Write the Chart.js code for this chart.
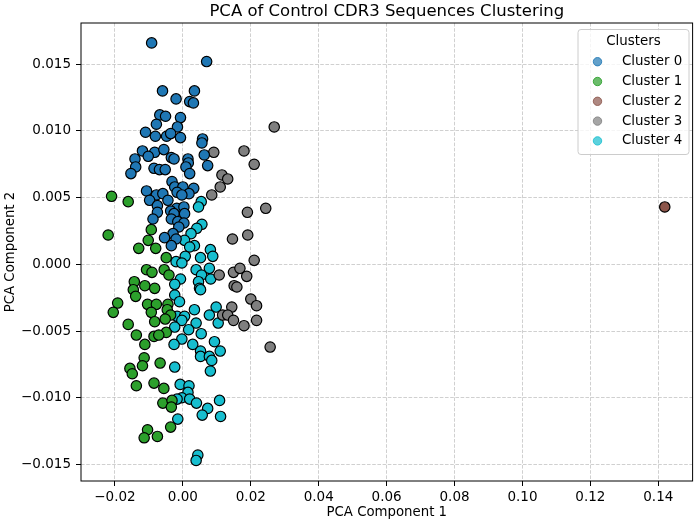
<!DOCTYPE html>
<html>
<head>
<meta charset="utf-8">
<title>PCA of Control CDR3 Sequences Clustering</title>
<script src="https://cdn.jsdelivr.net/npm/chart.js@4.4.0/dist/chart.umd.min.js"></script>
<style>
    html, body { margin: 0; padding: 0; background: #fff; }
    #wrap { width: 699px; height: 525px; }
</style>
</head>
<body>
<div id="wrap"><canvas id="chart" width="699" height="525"></canvas></div>
<script>
// PCA scatter of CDR3 clusters

const clusterNames = ['Cluster 0', 'Cluster 1', 'Cluster 2', 'Cluster 3', 'Cluster 4'];
const clusterColors = ['#1f77b4', '#2ca02c', '#8c564b', '#7f7f7f', '#17becf'];

const xTicks = [-0.02, 0.00, 0.02, 0.04, 0.06, 0.08, 0.10, 0.12, 0.14];
const yTicks = [-0.015, -0.010, -0.005, 0.000, 0.005, 0.010, 0.015];
const xLimits = [-0.0300, 0.1501];
const yLimits = [-0.01624, 0.01809];

const cluster0X = [-0.0092, 0.0070, -0.0060, 0.0034, -0.0020, 0.0020, 0.0031, -0.0068, -0.0051, -0.0007,
    -0.0078, -0.0016, -0.0110, -0.0081, -0.0048, -0.0036, -0.0007, 0.0058, 0.0056,
    -0.0119, -0.0083, -0.0056, -0.0102, -0.0034, -0.0026, -0.0141, 0.0015, 0.0016, 0.0063,
    0.0073, -0.0085, -0.0069, -0.0052, 0.0009, -0.0139, -0.0153, 0.0020, -0.0032, -0.0024,
    0.0000, 0.0032, 0.0018, -0.0107, -0.0017, -0.0003, -0.0078, -0.0059, -0.0098, -0.0044,
    -0.0075, -0.0018, 0.0003, -0.0036, -0.0075, -0.0026, 0.0005, -0.0034, -0.0088, -0.0015,
    0.0003, -0.0012, -0.0029, -0.0054, -0.0020, -0.0034];
const cluster0Y = [0.0166, 0.0152, 0.0130, 0.0130, 0.0124, 0.0122, 0.0121, 0.0112, 0.0111, 0.0110,
    0.0105, 0.0103, 0.0099, 0.0096, 0.0096, 0.0098, 0.0095, 0.0094, 0.0091,
    0.0085, 0.0084, 0.0086, 0.0081, 0.0080, 0.0079, 0.0079, 0.0079, 0.0076, 0.0082,
    0.0074, 0.0072, 0.0071, 0.0071, 0.0073, 0.0073, 0.0068, 0.0068, 0.0062, 0.0058,
    0.0058, 0.0057, 0.0053, 0.0055, 0.0054, 0.0052, 0.0052, 0.0053, 0.0048, 0.0048,
    0.0044, 0.0042, 0.0043, 0.0040, 0.0039, 0.0038, 0.0038, 0.0034, 0.0034, 0.0032,
    0.0031, 0.0028, 0.0023, 0.0020, 0.0019, 0.0014];

const cluster1X = [-0.0210, -0.0161, -0.0220, -0.0093, -0.0102, -0.0130, -0.0080,
    -0.0049, -0.0107, -0.0091, -0.0055, -0.0041, -0.0143, -0.0112, -0.0083, -0.0146, -0.0139,
    -0.0192, -0.0205, -0.0104, -0.0078, -0.0044, -0.0093, -0.0046, -0.0036, -0.0083, -0.0161,
    -0.0052, -0.0137, -0.0085, -0.0049, -0.0112, -0.0071,
    -0.0114, -0.0119, -0.0156, -0.0149, -0.0067, -0.0137, -0.0085, -0.0056, -0.0059, -0.0032,
    -0.0034, -0.0036, -0.0104, -0.0114, -0.0075];
const cluster1Y = [0.0051, 0.0047, 0.0022, 0.0026, 0.0018, 0.0012, 0.0012,
    0.0005, -0.0004, -0.0006, -0.0004, -0.0008, -0.0013, -0.0016, -0.0018, -0.0019, -0.0024,
    -0.0029, -0.0036, -0.0030, -0.0030, -0.0030, -0.0036, -0.0034, -0.0038, -0.0043, -0.0045,
    -0.0041, -0.0053, -0.0054, -0.0051, -0.0060, -0.0053,
    -0.0070, -0.0076, -0.0078, -0.0082, -0.0074, -0.0091, -0.0089, -0.0093, -0.0104, -0.0102,
    -0.0107, -0.0122, -0.0124, -0.0130, -0.0129];

const cluster2X = [0.1419];
const cluster2Y = [0.0043];

const cluster3X = [0.0269, 0.0091, 0.0180, 0.0210, 0.0115, 0.0132, 0.0110, 0.0085, 0.0190, 0.0244,
    0.0146, 0.0191, 0.0210, 0.0149, 0.0168, 0.0188, 0.0107, 0.0151, 0.0159, 0.0200,
    0.0217, 0.0144, 0.0117, 0.0132, 0.0149, 0.0180, 0.0217, 0.0257];
const cluster3Y = [0.0103, 0.0084, 0.0085, 0.0075, 0.0067, 0.0064, 0.0058, 0.0052, 0.0039, 0.0042,
    0.0019, 0.0022, 0.0003, -0.0006, -0.0003, -0.0009, -0.0008, -0.0016, -0.0017, -0.0026,
    -0.0031, -0.0032, -0.0038, -0.0038, -0.0042, -0.0046, -0.0042, -0.0062];

const cluster4X = [0.0054, 0.0046, 0.0056, 0.0041, 0.0024, 0.0005, 0.0034, 0.0020, 0.0081,
    0.0007, 0.0052, 0.0088, -0.0020, -0.0003, 0.0039, 0.0078, 0.0055, 0.0082, -0.0007,
    -0.0024, 0.0046, 0.0049, 0.0052, -0.0024, -0.0010, 0.0034, 0.0098, 0.0078, -0.0017,
    0.0005, -0.0003, 0.0039, 0.0104, -0.0024, 0.0017, 0.0054, -0.0003, 0.0029, -0.0026,
    0.0093, 0.0110, 0.0052,
    0.0052, 0.0078, 0.0085, 0.0081, -0.0024, -0.0008, 0.0018, 0.0015, -0.0003, 0.0020,
    -0.0017, 0.0040, 0.0108, 0.0073, 0.0057, 0.0111, -0.0015, 0.0044, 0.0039];
const cluster4Y = [0.0047, 0.0043, 0.0030, 0.0027, 0.0023, 0.0018, 0.0014, 0.0013, 0.0011,
    0.0006, 0.0005, 0.0006, 0.0002, 0.0001, -0.0004, -0.0003, -0.0008, -0.0011, -0.0011,
    -0.0015, -0.0013, -0.0018, -0.0019, -0.0023, -0.0028, -0.0034, -0.0032, -0.0038, -0.0039,
    -0.0039, -0.0042, -0.0044, -0.0044, -0.0047, -0.0049, -0.0052, -0.0056, -0.0060, -0.0060,
    -0.0058, -0.0065, -0.0065,
    -0.0069, -0.0069, -0.0072, -0.0080, -0.0077, -0.0090, -0.0091, -0.0096, -0.0100, -0.0101,
    -0.0101, -0.0104, -0.0102, -0.0108, -0.0113, -0.0114, -0.0116, -0.0143, -0.0147];

const clusterXs = [cluster0X, cluster1X, cluster2X, cluster3X, cluster4X];
const clusterYs = [cluster0Y, cluster1Y, cluster2Y, cluster3Y, cluster4Y];

const FONT = "'DejaVu Sans', 'Liberation Sans', sans-serif";

// Pair up x/y lists into scatter points
function toPoints(xs, ys) {
    return xs.map((x, i) => ({ x, y: ys[i] }));
}

// Matplotlib style tick label with a real minus sign
function fmtTick(v, digits) {
    const s = Math.abs(v).toFixed(digits);
    return v < 0 ? '\u2212' + s : s;
}

function hexToRgba(hex, a) {
    const n = parseInt(hex.slice(1), 16);
    return `rgba(${(n >> 16) & 255}, ${(n >> 8) & 255}, ${n & 255}, ${a})`;
}

// Title, axes frame and the inset legend
const decorations = {
    id: 'decorations',
    afterDatasetsDraw(chart) {
        const { ctx, chartArea: a } = chart;
        ctx.save();
        ctx.strokeStyle = '#000';
        ctx.lineWidth = 1;
        ctx.strokeRect(a.left, a.top, a.right - a.left, a.bottom - a.top);
        ctx.restore();
    },
    afterDraw(chart) {
        const { ctx, chartArea: a } = chart;
        ctx.save();

        // title
        ctx.fillStyle = '#000';
        ctx.font = `16.5px ${FONT}`;
        ctx.textAlign = 'center';
        ctx.textBaseline = 'alphabetic';
        ctx.fillText('PCA of Control CDR3 Sequences Clustering', (a.left + a.right) / 2, 16);

        // legend box
        const bx = 578, by = 29.5, bw = 111, bh = 125;
        ctx.beginPath();
        ctx.roundRect(bx, by, bw, bh, 3);
        ctx.fillStyle = 'rgba(255,255,255,0.8)';
        ctx.fill();
        ctx.strokeStyle = '#cccccc';
        ctx.lineWidth = 1;
        ctx.stroke();

        ctx.fillStyle = '#000';
        ctx.font = `13.4px ${FONT}`;
        ctx.textBaseline = 'middle';
        ctx.textAlign = 'center';
        ctx.fillText('Clusters', 633.5, 41.5);

        ctx.textAlign = 'left';
        clusterNames.forEach((name, i) => {
            const y = 61.7 + i * 19.8;
            ctx.beginPath();
            ctx.arc(597.5, y, 4.2, 0, Math.PI * 2);
            ctx.fillStyle = hexToRgba(clusterColors[i], 0.7);
            ctx.fill();
            ctx.strokeStyle = hexToRgba(clusterColors[i], 0.85);
            ctx.lineWidth = 1;
            ctx.stroke();
            ctx.fillStyle = '#000';
            ctx.fillText(name, 622, y);
        });
        ctx.restore();
    }
};

const gridOpts = {
    color: 'rgba(176,176,176,0.6)',
    lineWidth: 1,
    tickColor: '#000',
    tickLength: 5,
    tickWidth: 1
};

const datasets = clusterNames.map((name, i) => ({
    label: name,
    data: toPoints(clusterXs[i], clusterYs[i]),
    backgroundColor: clusterColors[i],
    borderColor: '#000',
    borderWidth: 1.2,
    pointRadius: 5.2,
    pointHoverRadius: 5.2,
    order: i
}));

new Chart(document.getElementById('chart'), {
    type: 'scatter',
    data: { datasets },
    options: {
        responsive: false,
        animation: false,
        layout: { padding: { top: 23, right: 3, left: 0, bottom: 0 } },
        plugins: {
            legend: { display: false },
            tooltip: { enabled: false },
            title: { display: false }
        },
        scales: {
            x: {
                type: 'linear',
                position: 'bottom',
                min: xLimits[0],
                max: xLimits[1],
                afterBuildTicks: s => { s.ticks = xTicks.map(v => ({ value: v })); },
                afterFit: s => { s.height = 44; },
                ticks: {
                    autoSkip: false,
                    maxRotation: 0,
                    padding: 3,
                    color: '#000',
                    font: { family: FONT, size: 13.5 },
                    callback: v => fmtTick(v, 2)
                },
                grid: gridOpts,
                border: { display: false, dash: [3.6, 1.6] },
                title: {
                    display: true,
                    text: 'PCA Component 1',
                    color: '#000',
                    font: { family: FONT, size: 13.3 },
                    padding: { top: 0, bottom: 4 }
                }
            },
            y: {
                type: 'linear',
                min: yLimits[0],
                max: yLimits[1],
                afterBuildTicks: s => { s.ticks = yTicks.map(v => ({ value: v })); },
                afterFit: s => { s.width = 81; },
                ticks: {
                    autoSkip: false,
                    padding: 5,
                    color: '#000',
                    font: { family: FONT, size: 13.5 },
                    callback: v => fmtTick(v, 3)
                },
                grid: gridOpts,
                border: { display: false, dash: [3.6, 1.6] },
                title: {
                    display: true,
                    text: 'PCA Component 2',
                    color: '#000',
                    font: { family: FONT, size: 13.3 },
                    padding: { top: 3, bottom: 0 }
                }
            }
        }
    },
    plugins: [decorations]
});
</script>
</body>
</html>
